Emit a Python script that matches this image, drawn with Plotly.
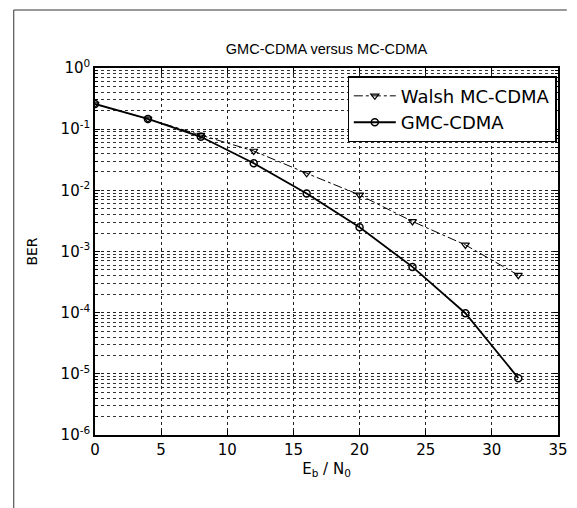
import plotly.graph_objects as go

ebn0 = [0, 4, 8, 12, 16, 20, 24, 28, 32]
ber_walsh = [0.258, 0.147, 0.080, 0.044, 0.019, 0.0084, 0.0031, 0.00128, 0.00041]
ber_gmc = [0.258, 0.147, 0.075, 0.0277, 0.0089, 0.00249, 0.00056, 0.000098, 0.0000085]

y_major = [1e0, 1e-1, 1e-2, 1e-3, 1e-4, 1e-5, 1e-6]
y_labels = ["10<sup>0</sup>", "10<sup>-1</sup>", "10<sup>-2</sup>", "10<sup>-3</sup>",
            "10<sup>-4</sup>", "10<sup>-5</sup>", "10<sup>-6</sup>"]
y_minor = [m * 10.0 ** e for e in range(-6, 0) for m in range(2, 10)]
x_ticks = [0, 5, 10, 15, 20, 25, 30, 35]

FONT = "DejaVu Sans, Liberation Sans, Arial, sans-serif"
FONT2 = "Liberation Sans, Arial, sans-serif"

fig = go.Figure()
fig.add_trace(go.Scatter(
    x=ebn0, y=ber_walsh, name="Walsh MC-CDMA", mode="lines+markers",
    line=dict(color="black", width=1, dash="dashdot"),
    marker=dict(symbol="triangle-down-open", size=7, color="black", line=dict(width=1.2)),
))
fig.add_trace(go.Scatter(
    x=ebn0, y=ber_gmc, name="GMC-CDMA", mode="lines+markers",
    line=dict(color="black", width=1.8),
    marker=dict(symbol="circle-open", size=7, color="black", line=dict(width=1.5)),
))

fig.update_layout(
    width=577, height=508,
    margin=dict(l=95, r=9, t=68, b=73),
    paper_bgcolor="white", plot_bgcolor="white",
    font=dict(family=FONT, size=14, color="black"),
    title=dict(text="GMC-CDMA versus MC-CDMA", x=0.5, xref="paper",
               y=1 - 49 / 508, yref="container", yanchor="middle",
               font=dict(family=FONT2, size=14.5, color="black")),
    legend=dict(x=0.997, y=0.977, xanchor="right", yanchor="top",
                bgcolor="white", bordercolor="black", borderwidth=1.2,
                itemwidth=42,
                font=dict(size=18, color="black"), tracegroupgap=0),
    showlegend=True,
)

fig.update_xaxes(
    range=[0, 35], tickvals=x_ticks, ticks="inside", ticklen=5,
    tickcolor="black", showline=True, linecolor="black", linewidth=1.6, mirror="ticks",
    showgrid=True, gridcolor="#222", griddash="dot", gridwidth=1,
    zeroline=False, tickfont=dict(size=15),
    title=dict(text="E<sub>b</sub> / N<sub>0</sub>", font=dict(size=15), standoff=6),
)
fig.update_yaxes(
    type="log", range=[-6, 0], tickvals=y_major, ticktext=y_labels,
    ticks="inside", ticklen=5, tickcolor="black",
    showline=True, linecolor="black", linewidth=1.6, mirror="ticks",
    showgrid=True, gridcolor="#222", griddash="dot", gridwidth=1,
    zeroline=False, tickfont=dict(size=15),
    minor=dict(tickvals=y_minor, showgrid=True, gridcolor="#333", griddash="dot",
               gridwidth=1, ticks="inside", ticklen=3, tickcolor="black"),
    title=dict(text="BER", font=dict(size=14), standoff=20),
)

# outer scanned frame
fig.add_shape(type="line", xref="paper", yref="paper",
              x0=(12 - 95) / 473, x1=(577 - 95) / 473,
              y0=1 + (68 - 10) / 367, y1=1 + (68 - 10) / 367,
              line=dict(color="#333", width=1))
fig.add_shape(type="line", xref="paper", yref="paper",
              x0=(12 - 95) / 473, x1=(12 - 95) / 473,
              y0=1 + (68 - 10) / 367, y1=-(508 - 435) / 367,
              line=dict(color="#333", width=1))

fig.write_html("out.html")
